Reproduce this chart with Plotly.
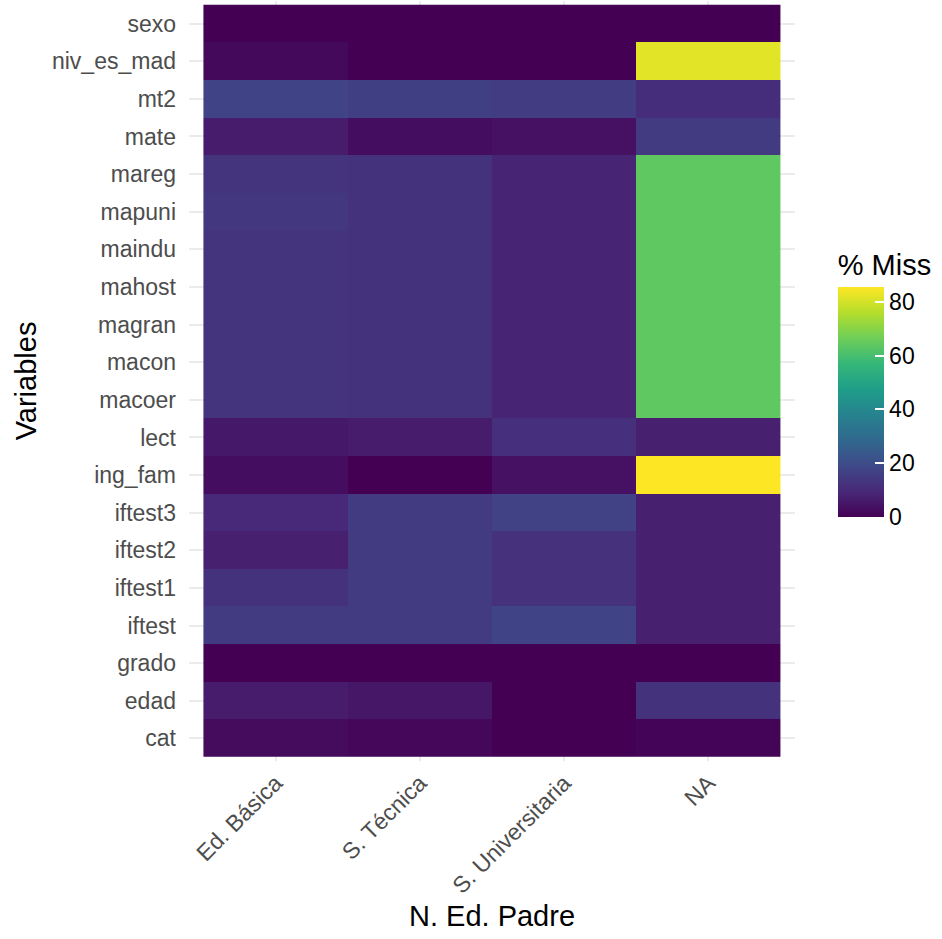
import plotly.graph_objects as go

variables = ["sexo", "niv_es_mad", "mt2", "mate", "mareg", "mapuni", "maindu",
             "mahost", "magran", "macon", "macoer", "lect", "ing_fam", "iftest3",
             "iftest2", "iftest1", "iftest", "grado", "edad", "cat"]
niveles = ["Ed. Básica", "S. Técnica", "S. Universitaria", "NA"]

ed_basica = [0, 2, 17.5, 6.5, 13, 14, 13, 13, 13, 13, 13, 5.5, 3, 9.5, 7.5, 12.5, 15, 0, 6.5, 2.5]
s_tecnica = [0, 0, 16, 3, 12.5, 12.5, 12.5, 12.5, 12.5, 12.5, 12.5, 6.5, 0, 15, 15, 15, 15, 0, 5, 1.5]
s_univ = [0, 0, 15.5, 4, 8.5, 8.5, 8.5, 8.5, 8.5, 8.5, 8.5, 11.5, 4, 17, 12, 12, 17.5, 0, 0, 0]
na_col = [0, 82, 11, 15, 64, 64, 64, 64, 64, 64, 64, 7.5, 85.5, 7.5, 7.5, 7.5, 7.5, 0, 12.5, 1]

columns = [ed_basica, s_tecnica, s_univ, na_col]
z = [[col[i] for col in columns] for i in range(len(variables))]
zmax = max(max(c) for c in columns)

FONT = "Liberation Sans"

fig = go.Figure(go.Heatmap(
    x=niveles,
    y=variables,
    z=z,
    colorscale="Viridis",
    zmin=0,
    zmax=zmax,
    xgap=0, ygap=0,
    colorbar=dict(
        title=dict(text="% Miss", side="top", font=dict(size=29, color="black", family=FONT)),
        tickvals=[0, 20, 40, 60, 80],
        ticks="inside", ticklen=9, tickcolor="white", tickwidth=1.5,
        tickfont=dict(size=23, color="black", family=FONT),
        thickness=46,
        lenmode="pixels", len=287,
        xanchor="left", x=1.054,
        yanchor="middle", y=0.4967,
        outlinewidth=0,
    ),
))

fig.update_layout(
    width=942, height=939,
    margin=dict(l=189, r=147, t=1, b=178),
    plot_bgcolor="white", paper_bgcolor="white",
    font=dict(family=FONT),
    xaxis=dict(
        type="category", range=[-0.6, 3.6],
        showgrid=True, gridcolor="#ebebeb", gridwidth=1.5,
        zeroline=False, showline=False,
        tickangle=-45, tickfont=dict(size=23, color="#4d4d4d", family=FONT),
        title=dict(text="N. Ed. Padre", standoff=8,
                   font=dict(size=29, color="black", family=FONT)),
        ticks="", ticklabelstandoff=3,
    ),
    yaxis=dict(
        type="category", categoryorder="array", categoryarray=variables[::-1],
        range=[-0.6, 19.6],
        showgrid=True, gridcolor="#ebebeb", gridwidth=1.5,
        zeroline=False, showline=False,
        tickfont=dict(size=23, color="#4d4d4d", family=FONT),
        title=dict(text="Variables", standoff=6,
                   font=dict(size=29, color="black", family=FONT)),
        ticks="", ticklabelstandoff=12,
    ),
)

fig.write_html("out.html")
